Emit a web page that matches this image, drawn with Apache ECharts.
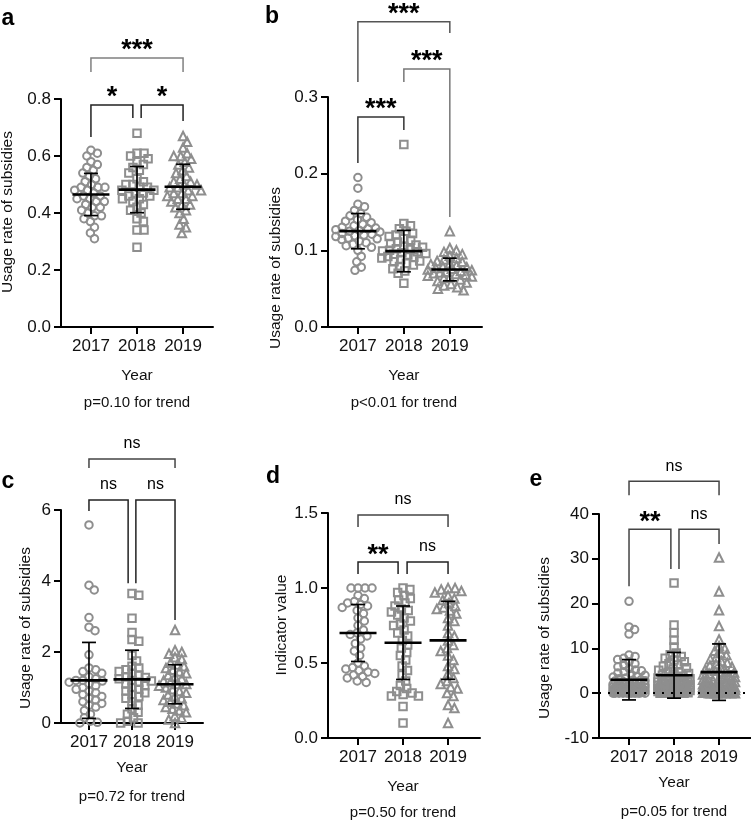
<!DOCTYPE html>
<html><head><meta charset="utf-8">
<script src="https://cdn.jsdelivr.net/npm/echarts@6/dist/echarts.min.js"></script>
<style>html,body{margin:0;padding:0;background:#fff}#c{width:751px;height:825px}</style>
</head><body><div id="c"></div>
<script>
const years = ['2017', '2018', '2019'];

// panel a
const a2017 = [0.62,0.61,0.60,0.58,0.57,0.56,0.55,0.54,0.53,0.52,0.51,0.50,0.49,0.49,0.49,0.48,0.48,0.47,0.46,0.46,0.45,0.45,0.44,0.44,0.43,0.42,0.42,0.41,0.40,0.39,0.39,0.38,0.37,0.35,0.33,0.31];
const a2018 = [0.68,0.61,0.61,0.60,0.59,0.58,0.57,0.56,0.55,0.54,0.52,0.51,0.50,0.50,0.49,0.49,0.48,0.48,0.47,0.47,0.46,0.46,0.45,0.45,0.44,0.43,0.42,0.41,0.40,0.38,0.37,0.34,0.34,0.28];
const a2019 = [0.67,0.65,0.63,0.61,0.60,0.60,0.59,0.58,0.57,0.56,0.55,0.54,0.53,0.52,0.51,0.51,0.50,0.50,0.49,0.49,0.48,0.48,0.47,0.47,0.46,0.46,0.45,0.45,0.44,0.43,0.43,0.42,0.41,0.40,0.38,0.36,0.35,0.33];
const aMean = [0.465, 0.482, 0.492];
const aSD = [0.074, 0.081, 0.079];
const aTicks = [0, 0.2, 0.4, 0.6, 0.8];
const aBrackets = [[1, 3, 0.944, 0.895, 0.895], [1, 1.91, 0.779, 0.667, 0.733], [2.09, 3, 0.779, 0.733, 0.723]];
const aBracketText = ['***', '*', '*'];

// panel b
const b2017 = [0.195,0.181,0.16,0.157,0.152,0.148,0.145,0.143,0.14,0.138,0.136,0.134,0.132,0.13,0.129,0.128,0.127,0.126,0.125,0.124,0.122,0.121,0.12,0.119,0.118,0.116,0.115,0.114,0.112,0.11,0.108,0.106,0.104,0.1,0.092,0.085,0.078,0.074];
const b2018 = [0.238,0.135,0.132,0.128,0.125,0.122,0.12,0.118,0.115,0.113,0.111,0.109,0.107,0.105,0.104,0.102,0.101,0.1,0.099,0.098,0.097,0.096,0.095,0.094,0.092,0.091,0.09,0.088,0.086,0.085,0.083,0.081,0.079,0.076,0.073,0.07,0.057];
const b2019 = [0.125,0.103,0.1,0.098,0.095,0.093,0.09,0.088,0.086,0.085,0.083,0.082,0.08,0.079,0.078,0.077,0.076,0.075,0.074,0.073,0.072,0.071,0.07,0.069,0.068,0.067,0.066,0.065,0.064,0.062,0.06,0.058,0.056,0.054,0.052,0.05,0.048];
const bMean = [0.125, 0.099, 0.075];
const bSD = [0.023, 0.027, 0.0148];
const bTicks = [0, 0.1, 0.2, 0.3];
const bBrackets = [[1, 3, 0.398, 0.3195, 0.3835], [2, 3, 0.3365, 0.3195, 0.1435], [1, 2, 0.274, 0.214, 0.257]];
const bBracketText = ['***', '***', '***'];

// panel c
const c2017 = [5.58,3.88,3.75,2.97,2.7,2.6,1.92,1.55,1.5,1.45,1.4,1.3,1.25,1.2,1.2,1.18,1.15,1.1,1.05,1.0,0.95,0.9,0.85,0.8,0.75,0.7,0.65,0.6,0.55,0.5,0.45,0.35,0.25,0.15,0.05,0.02,0.0];
const c2018 = [3.65,3.6,2.95,2.55,2.35,2.3,1.9,1.75,1.6,1.55,1.5,1.45,1.4,1.35,1.3,1.28,1.25,1.2,1.18,1.15,1.1,1.05,1.0,0.95,0.9,0.85,0.8,0.75,0.7,0.6,0.5,0.4,0.3,0.25,0.15,0.05,0.0,0.0];
const c2019 = [2.62,2.05,2.0,1.95,1.85,1.8,1.7,1.65,1.6,1.55,1.5,1.45,1.4,1.35,1.3,1.25,1.2,1.15,1.1,1.1,1.05,1.0,0.95,0.9,0.85,0.8,0.75,0.7,0.65,0.6,0.55,0.5,0.45,0.4,0.35,0.3,0.2,0.15,0.1,0.0];
const cMean = [1.2, 1.23, 1.09];
const cSD = [1.07, 0.82, 0.55];
const cTicks = [0, 2, 4, 6];
const cBrackets = [[1, 3, 7.44, 7.18, 7.18], [1, 1.91, 6.28, 5.97, 3.94], [2.09, 3, 6.28, 3.94, 2.9]];
const cBracketText = ['ns', 'ns', 'ns'];

// panel d
const d2017 = [1.0,1.0,1.0,1.0,0.95,0.93,0.91,0.9,0.89,0.88,0.87,0.85,0.83,0.8,0.78,0.75,0.72,0.7,0.69,0.68,0.66,0.63,0.6,0.58,0.55,0.5,0.48,0.47,0.46,0.45,0.44,0.43,0.42,0.41,0.4,0.38,0.37];
const d2018 = [1.0,0.99,0.97,0.95,0.93,0.92,0.9,0.88,0.86,0.85,0.84,0.82,0.8,0.78,0.76,0.75,0.72,0.7,0.68,0.65,0.62,0.6,0.57,0.55,0.52,0.48,0.45,0.42,0.38,0.35,0.33,0.31,0.3,0.29,0.28,0.28,0.21,0.1];
const d2019 = [1.0,1.0,0.99,0.98,0.97,0.95,0.93,0.92,0.9,0.88,0.87,0.86,0.85,0.83,0.8,0.78,0.75,0.7,0.68,0.65,0.62,0.6,0.58,0.55,0.52,0.48,0.46,0.43,0.4,0.38,0.36,0.34,0.33,0.3,0.28,0.22,0.2,0.1];
const dMean = [0.70, 0.635, 0.651];
const dSD = [0.19, 0.245, 0.26];
const dTicks = [0, 0.5, 1.0, 1.5];
const dBrackets = [[1, 3, 1.487, 1.407, 1.407], [1, 1.89, 1.173, 1.093, 1.093], [2.09, 3, 1.173, 1.093, 1.093]];
const dBracketText = ['ns', '**', 'ns'];

// panel e
const e2017 = [20.5,14.8,14.2,13.2,8.5,8.2,7.8,7.5,7.0,6.6,6.2,5.9,5.5,5.2,5.0,4.8,4.5,4.2,4.0,3.8,3.6,3.4,3.2,3.0,2.9,2.8,2.6,2.5,2.4,2.2,2.1,2.0,1.9,1.8,1.7,1.6,1.5,1.4,1.3,1.2,1.1,1.0,1.0,0.9,0.8,0.8,0.7,0.6,0.6,0.5,0.5,0.4,0.4,0.3,0.3,0.2,0.2,0.1,0.1,0.0,0.0,0.0,0.0,0.0,0.0,0.0,
  2.7,2.3,1.9,1.6,1.4,1.2,1.0,0.9,0.7,0.5,0.4,0.3,0.2,0.1,0.0,0.0,1.3,0.8,0.6,0.2];
const e2018 = [24.6,15.2,13.5,11.8,10.3,9.0,8.6,8.2,7.8,7.4,7.0,6.6,6.3,6.0,5.7,5.4,5.1,4.8,4.6,4.4,4.2,4.0,3.8,3.6,3.4,3.2,3.0,2.8,2.7,2.6,2.5,2.4,2.3,2.2,2.1,2.0,1.9,1.8,1.7,1.6,1.5,1.4,1.3,1.2,1.1,1.0,0.9,0.8,0.7,0.6,0.5,0.4,0.3,0.2,0.1,0.0,0.0,0.0,0.0,
  3.5,3.1,2.6,2.2,1.9,1.6,1.4,1.2,1.0,0.8,0.6,0.5,0.4,0.3,0.2,0.1,0.0,0.0,1.1,0.7];
const e2019 = [30.3,22.7,18.5,15.0,12.0,10.5,10.0,9.5,9.0,8.5,8.0,7.6,7.2,6.8,6.5,6.2,5.9,5.6,5.3,5.0,4.8,4.6,4.4,4.2,4.0,3.8,3.6,3.4,3.2,3.0,2.8,2.6,2.4,2.2,2.0,1.9,1.8,1.7,1.6,1.5,1.4,1.3,1.2,1.1,1.0,0.9,0.8,0.7,0.6,0.5,0.4,0.3,0.2,0.1,0.0,0.0,0.0,0.0,0.0,0.0,
  4.3,3.7,3.0,2.5,2.1,1.8,1.5,1.3,1.1,0.9,0.7,0.5,0.4,0.3,0.2,0.1,0.0,0.0,1.6,0.8];
const eMean = [3.0, 4.0, 4.7];
const eSD = [4.5, 5.1, 6.3];
const eTicks = [-10, 0, 10, 20, 30, 40];
const eBrackets = [[1, 3, 47.3, 44.2, 44.2], [1, 1.93, 36.6, 23.9, 27.7], [2.11, 3, 36.6, 27.7, 33.3]];
const eBracketText = ['ns', '**', 'ns'];

const trendText = ['p=0.10 for trend', 'p<0.01 for trend', 'p=0.72 for trend', 'p=0.50 for trend', 'p=0.05 for trend'];
const yNames = ['Usage rate of subsidies', 'Usage rate of subsidies', 'Usage rate of subsidies', 'Indicator value', 'Usage rate of subsidies'];
const letters = ['a', 'b', 'c', 'd', 'e'];

// ---------- layout / style ----------
const FONT = 'Arial, "Liberation Sans", sans-serif';
const PT = '#8e8e8e';
const panels = [
  {grid:{left:61, top:99, width:152, height:228}, x:[0.35,3.65], ticks:aTicks, dec:1, groups:[a2017,a2018,a2019], mean:aMean, sd:aSD, br:aBrackets, brText:aBracketText,
   nameX:8, nameY:212, letter:[8,19], labelYear:376, labelP:403, brColor:['#808080','#222','#222']},
  {grid:{left:328, top:97, width:154, height:230}, x:[0.35,3.70], ticks:bTicks, dec:1, groups:[b2017,b2018,b2019], mean:bMean, sd:bSD, br:bBrackets, brText:bBracketText,
   nameX:276, nameY:268, letter:[272,17], labelYear:376, labelP:403, brColor:['#555','#777','#333']},
  {grid:{left:61, top:510, width:142, height:213}, x:[0.35,3.65], ticks:cTicks, dec:0, groups:[c2017,c2018,c2019], mean:cMean, sd:cSD, br:cBrackets, brText:cBracketText,
   nameX:26, nameY:628, letter:[8,482], labelYear:768, labelP:797, brColor:['#444','#222','#222']},
  {grid:{left:328, top:513, width:152, height:225}, x:[0.333,3.71], ticks:dTicks, dec:1, groups:[d2017,d2018,d2019], mean:dMean, sd:dSD, br:dBrackets, brText:dBracketText,
   nameX:282, nameY:625, letter:[273,477], labelYear:787, labelP:813, brColor:['#444','#222','#222']},
  {grid:{left:599, top:514, width:152, height:224}, x:[0.333,3.71], ticks:eTicks, dec:0, groups:[e2017,e2018,e2019], mean:eMean, sd:eSD, br:eBrackets, brText:eBracketText,
   nameX:545, nameY:638, letter:[536,480], labelYear:783, labelP:812, zeroLine:true, brColor:['#444','#444','#444']}
];
const symbols = ['circle', 'rect', 'triangle'];
const symSizes = [7.5, 7.5, 8.5];

// deterministic beeswarm layout (pixel space)
function swarm(values, pxPerY, D, cap) {
  const n = values.length;
  const order = values.map((v, i) => i).sort((p, q) => values[q] - values[p]);
  const placed = [];
  const off = new Array(n).fill(0);
  for (const i of order) {
    const y = values[i] * pxPerY;
    const cands = [0];
    for (const p of placed) {
      const dy = Math.abs(p.y - y);
      if (dy < D) {
        const dx = Math.sqrt(D * D - dy * dy);
        cands.push(p.x + dx, p.x - dx);
      }
    }
    cands.sort((u, v) => Math.abs(u) - Math.abs(v));
    let chosen = null;
    for (const c of cands) {
      if (Math.abs(c) > cap) continue;
      let ok = true;
      for (const p of placed) {
        const dx = p.x - c, dy = p.y - y;
        if (dx * dx + dy * dy < D * D - 0.01) { ok = false; break; }
      }
      if (ok) { chosen = c; break; }
    }
    if (chosen === null) {
      let best = 0, bestD = -1;
      for (let c = -cap; c <= cap + 0.001; c += 2) {
        let md = Infinity;
        for (const p of placed) {
          const dx = p.x - c, dy = p.y - y;
          md = Math.min(md, dx * dx + dy * dy);
        }
        if (md > bestD) { bestD = md; best = c; }
      }
      chosen = best;
    }
    off[i] = chosen;
    placed.push({x: chosen, y: y});
  }
  return off;
}

const grids = [], xAxes = [], yAxes = [], series = [], graphics = [];
panels.forEach((P, k) => {
  grids.push(Object.assign({containLabel: false}, P.grid));
  const ymin = P.ticks[0], ymax = P.ticks[P.ticks.length - 1], step = P.ticks[1] - P.ticks[0];
  const pxPerX = P.grid.width / (P.x[1] - P.x[0]);
  const pxPerY = P.grid.height / (ymax - ymin);
  xAxes.push({
    gridIndex: k, type: 'value', min: P.x[0], max: P.x[1],
    axisLine: {show: true, onZero: false, lineStyle: {color: '#000', width: 2}},
    axisTick: {show: true, customValues: [1, 2, 3], length: 7, lineStyle: {color: '#000', width: 2}},
    axisLabel: {show: true, customValues: [1, 2, 3], formatter: v => years[Math.round(v) - 1] || '', fontSize: 17, color: '#111', fontFamily: FONT, margin: 11},
    splitLine: {show: false}
  });
  yAxes.push({
    gridIndex: k, type: 'value', min: ymin, max: ymax, interval: step,
    axisLine: {show: true, onZero: false, lineStyle: {color: '#000', width: 2}},
    axisTick: {show: true, length: 7, lineStyle: {color: '#000', width: 2}},
    axisLabel: {formatter: v => v.toFixed(P.dec), fontSize: 17, color: '#111', fontFamily: FONT, margin: 10},
    splitLine: {show: false}
  });
  P.groups.forEach((vals, g) => {
    const offs = swarm(vals, pxPerY, k === 4 ? 6.2 : 7.0, k === 4 ? 16 : 22);
    const s = {
      type: 'scatter', xAxisIndex: k, yAxisIndex: k, symbol: symbols[g], symbolSize: symSizes[g],
      data: vals.map((v, i) => [g + 1 + offs[i] / pxPerX, v]),
      itemStyle: {color: 'rgba(0,0,0,0)', borderColor: PT, borderWidth: 2, opacity: 1},
      silent: true, z: 2
    };
    if (P.zeroLine && g === 0) {
      s.markLine = {silent: true, symbol: 'none', label: {show: false},
        lineStyle: {color: '#000', width: 2.2, type: [2, 7]}, data: [{yAxis: 0}]};
    }
    series.push(s);
  });
  // mean ± SD
  series.push({
    type: 'custom', xAxisIndex: k, yAxisIndex: k, z: 5, silent: true,
    encode: {x: 0, y: 1},
    data: P.mean.map((m, g) => [g + 1, m, P.sd[g]]),
    renderItem: (params, api) => {
      const x = api.value(0), m = api.value(1), s = api.value(2);
      const c = api.coord([x, m]), t = api.coord([x, m + s]), b = api.coord([x, m - s]);
      const st = {stroke: '#000', lineWidth: 1.7};
      return {type: 'group', children: [
        {type: 'line', shape: {x1: c[0] - 18.5, y1: c[1], x2: c[0] + 18.5, y2: c[1]}, style: {stroke: '#000', lineWidth: 2.6}},
        {type: 'line', shape: {x1: t[0], y1: t[1], x2: b[0], y2: b[1]}, style: st},
        {type: 'line', shape: {x1: t[0] - 7, y1: t[1], x2: t[0] + 7, y2: t[1]}, style: st},
        {type: 'line', shape: {x1: b[0] - 7, y1: b[1], x2: b[0] + 7, y2: b[1]}, style: st}
      ]};
    }
  });
  // significance brackets
  series.push({
    type: 'custom', xAxisIndex: k, yAxisIndex: k, z: 6, silent: true, clip: false,
    encode: {x: 0, y: 2},
    data: P.br,
    renderItem: (params, api) => {
      const x1 = api.value(0), x2 = api.value(1), yt = api.value(2), y1 = api.value(3), y2 = api.value(4);
      const p1 = api.coord([x1, y1]), p2 = api.coord([x1, yt]), p3 = api.coord([x2, yt]), p4 = api.coord([x2, y2]);
      const txt = P.brText[params.dataIndex];
      const star = txt.indexOf('*') >= 0;
      return {type: 'group', children: [
        {type: 'polyline', shape: {points: [p1, p2, p3, p4]}, style: {stroke: P.brColor[params.dataIndex], lineWidth: 1.5, fill: null}},
        {type: 'text', x: (p2[0] + p3[0]) / 2, y: p2[1] - (star ? 7 : 15),
         style: {text: txt, fill: '#000', font: (star ? 'bold 27px ' : '16px ') + FONT, textAlign: 'center', textVerticalAlign: 'middle'}}
      ]};
    }
  });
  const midX = P.grid.left + (2 - P.x[0]) * pxPerX;
  graphics.push(
    {type: 'text', x: P.letter[0], y: P.letter[1], style: {text: letters[k], font: 'bold 23px ' + FONT, fill: '#000', textAlign: 'center', textVerticalAlign: 'middle'}},
    {type: 'text', x: midX, y: P.labelYear, style: {text: 'Year', font: '15.5px ' + FONT, fill: '#111', textAlign: 'center', textVerticalAlign: 'middle'}},
    {type: 'text', x: midX, y: P.labelP, style: {text: trendText[k], font: '15px ' + FONT, fill: '#111', textAlign: 'center', textVerticalAlign: 'middle'}},
    {type: 'text', x: P.nameX, y: P.nameY, rotation: Math.PI / 2, style: {text: yNames[k], font: '15.5px ' + FONT, fill: '#111', textAlign: 'center', textVerticalAlign: 'middle'}}
  );
});

const chart = echarts.init(document.getElementById('c'), null, {renderer: 'canvas'});
chart.setOption({
  animation: false,
  backgroundColor: '#fff',
  grid: grids, xAxis: xAxes, yAxis: yAxes, series: series, graphic: graphics
});
</script>
</body></html>
